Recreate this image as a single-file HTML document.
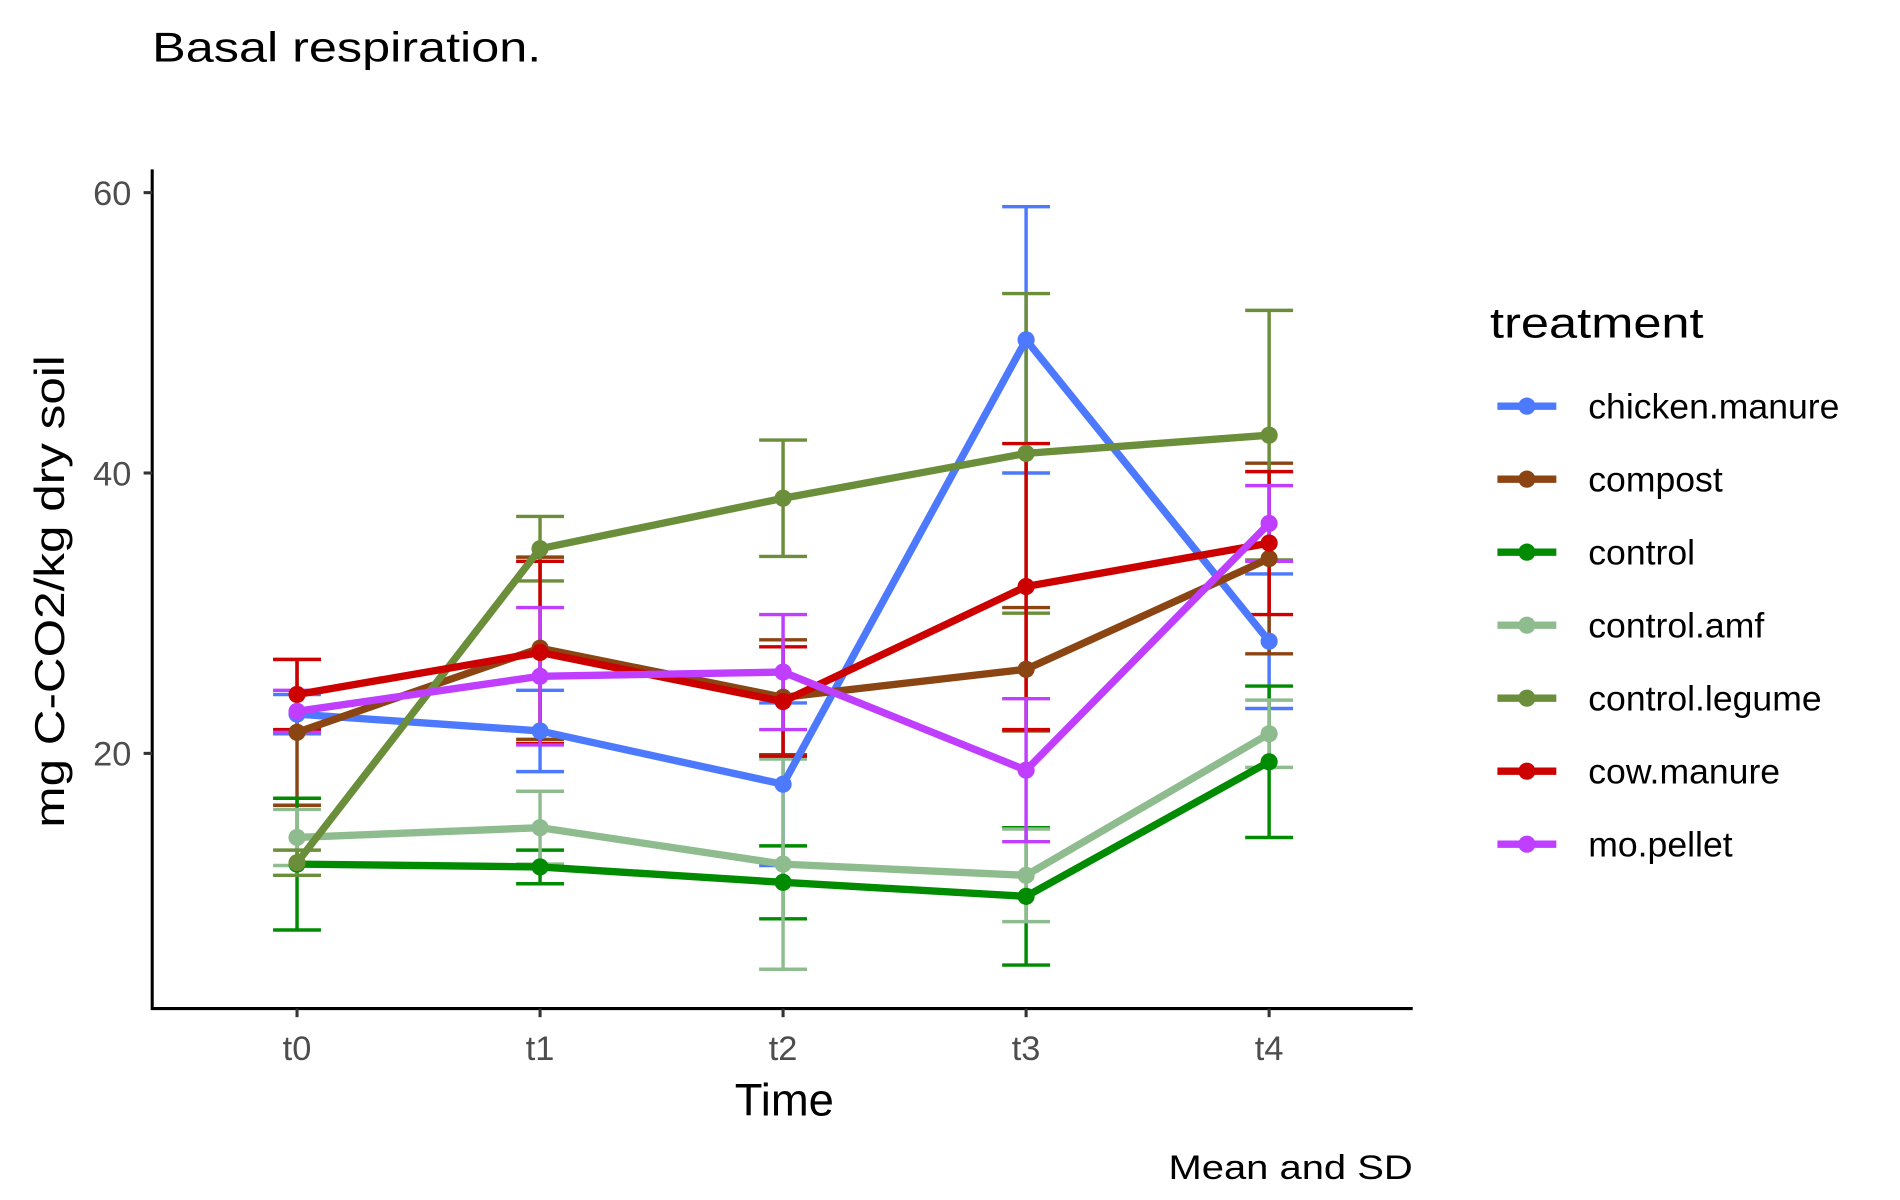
<!DOCTYPE html>
<html><head><meta charset="utf-8"><style>
html,body{margin:0;padding:0;background:#fff;}
svg{display:block;font-family:"Liberation Sans",Arial,sans-serif;}
</style></head><body>
<svg id="chart" width="1900" height="1200" viewBox="0 0 1548 978" preserveAspectRatio="none" xmlns="http://www.w3.org/2000/svg">
<text x="124" y="50" font-size="34" fill="#000" textLength="317" lengthAdjust="spacingAndGlyphs">Basal respiration.</text>
<g id="plot"></g>
<line x1="124" y1="138" x2="124" y2="823" stroke="#000" stroke-width="2.5"/>
<line x1="123" y1="822" x2="1151" y2="822" stroke="#000" stroke-width="2.5"/>
<g id="axes"></g>
<text x="639" y="909" font-size="37" text-anchor="middle" fill="#000">Time</text>
<text transform="translate(52,482) rotate(-90)" font-size="34" text-anchor="middle" fill="#000" textLength="385" lengthAdjust="spacingAndGlyphs">mg C-CO2/kg dry soil</text>
<text x="1151" y="961" font-size="28" text-anchor="end" fill="#000" textLength="199" lengthAdjust="spacingAndGlyphs">Mean and SD</text>
<g id="legend">
<text x="1214" y="275" font-size="35" fill="#000" textLength="174" lengthAdjust="spacingAndGlyphs">treatment</text>
</g>
</svg>
<script>
const categories = ["t0","t1","t2","t3","t4"];
const seriesNames = ["chicken.manure","compost","control","control.amf","control.legume","cow.manure","mo.pellet"];
const seriesColors = ["#4D79FF","#8B4513","#008B00","#8FBC8F","#6B8E3A","#CD0000","#BF3EFF"];
const chickenMean = [22.8,21.6,17.8,49.5,28.0];
const chickenSD   = [1.4,2.9,5.8,9.5,4.8];
const compostMean = [21.5,27.5,24.0,26.0,33.9];
const compostSD   = [5.2,6.5,4.1,4.4,6.8];
const controlMean = [12.1,11.9,10.8,9.8,19.4];
const controlSD   = [4.7,1.2,2.6,4.9,5.4];
const amfMean     = [14.0,14.7,12.1,11.3,21.4];
const amfSD       = [2.0,2.6,7.5,3.3,2.4];
const legumeMean  = [12.2,34.6,38.2,41.4,42.7];
const legumeSD    = [0.9,2.3,4.15,11.4,8.9];
const cowMean     = [24.2,27.2,23.7,31.9,35.0];
const cowSD       = [2.5,6.5,3.9,10.2,5.1];
const pelletMean  = [23.0,25.5,25.8,18.8,36.4];
const pelletSD    = [1.5,4.9,4.1,5.1,2.7];
const yTicks = [20,40,60];

const allMeans=[chickenMean,compostMean,controlMean,amfMean,legumeMean,cowMean,pelletMean];
const allSDs=[chickenSD,compostSD,controlSD,amfSD,legumeSD,cowSD,pelletSD];
const NS="http://www.w3.org/2000/svg";
function xPos(i){return 242+i*198;}
function yPos(v){return 842.5-v*11.425;}
function mk(tag,attrs,parent){const e=document.createElementNS(NS,tag);for(const k in attrs)e.setAttribute(k,attrs[k]);parent.appendChild(e);return e;}
const plot=document.getElementById('plot'),axes=document.getElementById('axes'),legend=document.getElementById('legend');

yTicks.forEach(t=>{
  const l=mk('line',{x1:117,x2:124,y1:yPos(t),y2:yPos(t),stroke:'#333','stroke-width':2.5},axes);
  
  
  const tx=mk('text',{x:107,y:yPos(t)+10,'font-size':28,'text-anchor':'end',fill:'#4d4d4d'},axes);
  tx.textContent=t;
  
  
});
categories.forEach((c,i)=>{
  const l=mk('line',{x1:xPos(i),x2:xPos(i),y1:822,y2:829,stroke:'#333','stroke-width':2.5},axes);
  
  
  const tx=mk('text',{x:xPos(i),y:864,'font-size':28,'text-anchor':'middle',fill:'#4d4d4d'},axes);
  tx.textContent=c;
  
  
});
allMeans.forEach((m,s)=>{
  const col=seriesColors[s];
  m.forEach((v,i)=>{
    const g=mk('g',{stroke:col,'stroke-width':2.8},plot);
    
    
    const hi=yPos(v+allSDs[s][i]),lo=yPos(v-allSDs[s][i]),x=xPos(i);
    mk('line',{x1:x,x2:x,y1:hi,y2:lo},g);
    mk('line',{x1:x-19.5,x2:x+19.5,y1:hi,y2:hi},g);
    mk('line',{x1:x-19.5,x2:x+19.5,y1:lo,y2:lo},g);
  });
});
allMeans.forEach((m,s)=>{
  const col=seriesColors[s];
  const pl=mk('polyline',{points:m.map((v,i)=>xPos(i)+','+yPos(v)).join(' '),fill:'none',stroke:col,'stroke-width':6,'stroke-linejoin':'round'},plot);
  
  
  m.forEach((v,i)=>{
    const c=mk('circle',{cx:xPos(i),cy:yPos(v),r:7,fill:col},plot);
    
    
  });
  const y=331+s*59.5;
  const g=mk('g',{},legend);
  
  
  mk('line',{x1:1220,x2:1268,y1:y,y2:y,stroke:col,'stroke-width':6},g);
  mk('circle',{cx:1244,cy:y,r:7,fill:col},g);
  const t=mk('text',{x:1294,y:y+10,'font-size':29,fill:'#000'},g);
  t.textContent=seriesNames[s];
});
</script>
</body></html>
